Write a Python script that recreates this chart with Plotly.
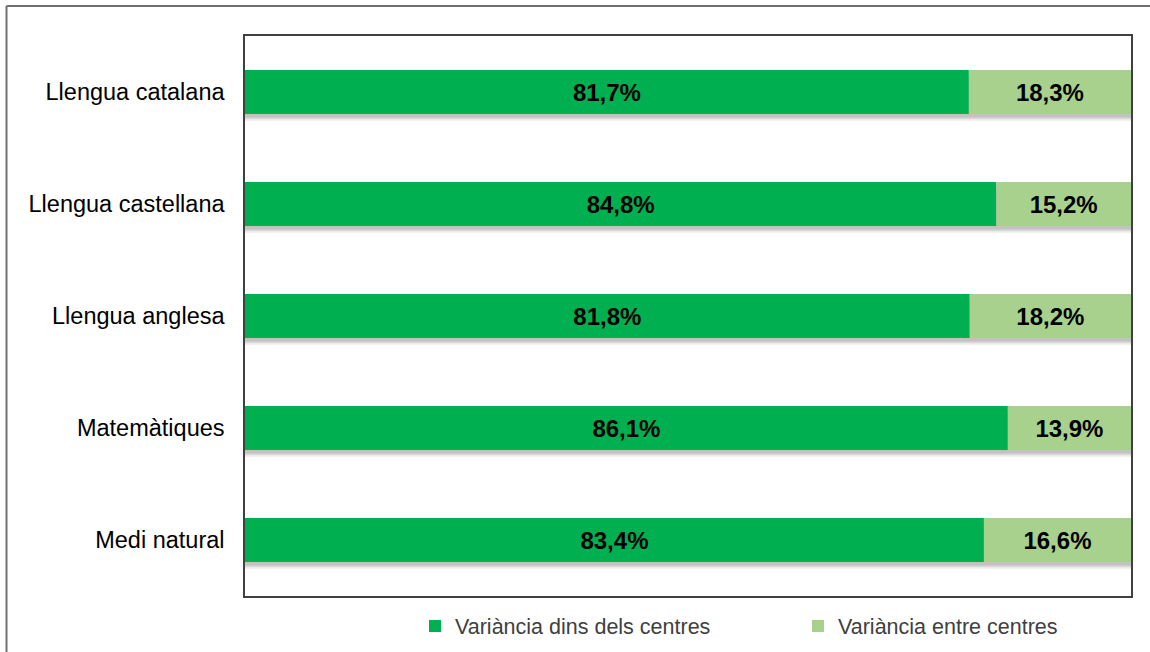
import plotly.graph_objects as go

categories = ["Llengua catalana", "Llengua castellana", "Llengua anglesa", "Matemàtiques", "Medi natural"]
dins = [81.7, 84.8, 81.8, 86.1, 83.4]
entre = [18.3, 15.2, 18.2, 13.9, 16.6]
series_names = ["Variància dins dels centres", "Variància entre centres"]

def fmt(v):
    return f"{v:.1f}".replace(".", ",") + "%"

W, H = 1150, 652
L, R, T, B = 245, 19, 36, 56
pw, ph = W - L - R, H - T - B
bw = 0.394

fig = go.Figure()
# soft shadow under each full bar
totals = [a + b for a, b in zip(dins, entre)]
for k, op in [(0.06, 0.08), (0.045, 0.08), (0.03, 0.10)]:
    fig.add_trace(go.Bar(
        y=categories, x=totals, base=[0]*len(totals), orientation="h",
        width=bw, offset=-bw/2 + k, marker=dict(color=f"rgba(0,0,0,{op})", line_width=0),
        showlegend=False, hoverinfo="skip"))
txtfont = dict(family="Liberation Sans, Arial", size=24, color="black", weight="bold")
fig.add_trace(go.Bar(
    y=categories, x=dins, base=[0]*len(dins), orientation="h", name=series_names[0],
    width=bw, offset=-bw/2,
    marker=dict(color="#00B050", line_width=0),
    text=[fmt(v) for v in dins], textposition="inside", insidetextanchor="middle",
    textfont=txtfont, textangle=0))
fig.add_trace(go.Bar(
    y=categories, x=entre, base=dins, orientation="h", name=series_names[1],
    width=bw, offset=-bw/2,
    marker=dict(color="#A9D18E", line_width=0),
    text=[fmt(v) for v in entre], textposition="inside", insidetextanchor="middle",
    textfont=txtfont, textangle=0))

# outer chart frame (top and left edges visible)
top_y = (H - B - 6) / ph
left_x = (6.5 - L) / pw
right_x = (W + 5 - L) / pw
bot_y = -(B + 5) / ph

fig.update_layout(
    width=W, height=H,
    margin=dict(l=L, r=R, t=T, b=B, autoexpand=False),
    barmode="overlay",
    plot_bgcolor="white", paper_bgcolor="white",
    font=dict(family="Liberation Sans, Arial", size=19, color="black"),
    xaxis=dict(range=[0, 100], showticklabels=False, showgrid=False, zeroline=False,
               showline=True, linecolor="#404040", linewidth=1.5, mirror=True, ticks=""),
    yaxis=dict(autorange=False, range=[4.5, -0.5], showgrid=False, zeroline=False,
               showline=True, linecolor="#404040", linewidth=1.5, mirror=True, ticks="",
               ticklabelstandoff=14, tickfont=dict(size=23.5, color="black")),
    legend=dict(orientation="h", xref="container", yref="container",
                x=415 / W, xanchor="left", y=(H - 626) / H, yanchor="middle",
                entrywidth=338, entrywidthmode="pixels", itemwidth=30,
                font=dict(size=21.5, color="#404040"), traceorder="normal"),
    shapes=[
        dict(type="line", xref="paper", yref="paper", x0=left_x, x1=right_x, y0=top_y, y1=top_y,
             line=dict(color="#707070", width=2)),
        dict(type="line", xref="paper", yref="paper", x0=left_x, x1=left_x, y0=top_y, y1=bot_y,
             line=dict(color="#707070", width=2)),
    ],
)
fig.write_html("out.html", config={"displayModeBar": False},
               post_script="document.body.style.margin='0';")
